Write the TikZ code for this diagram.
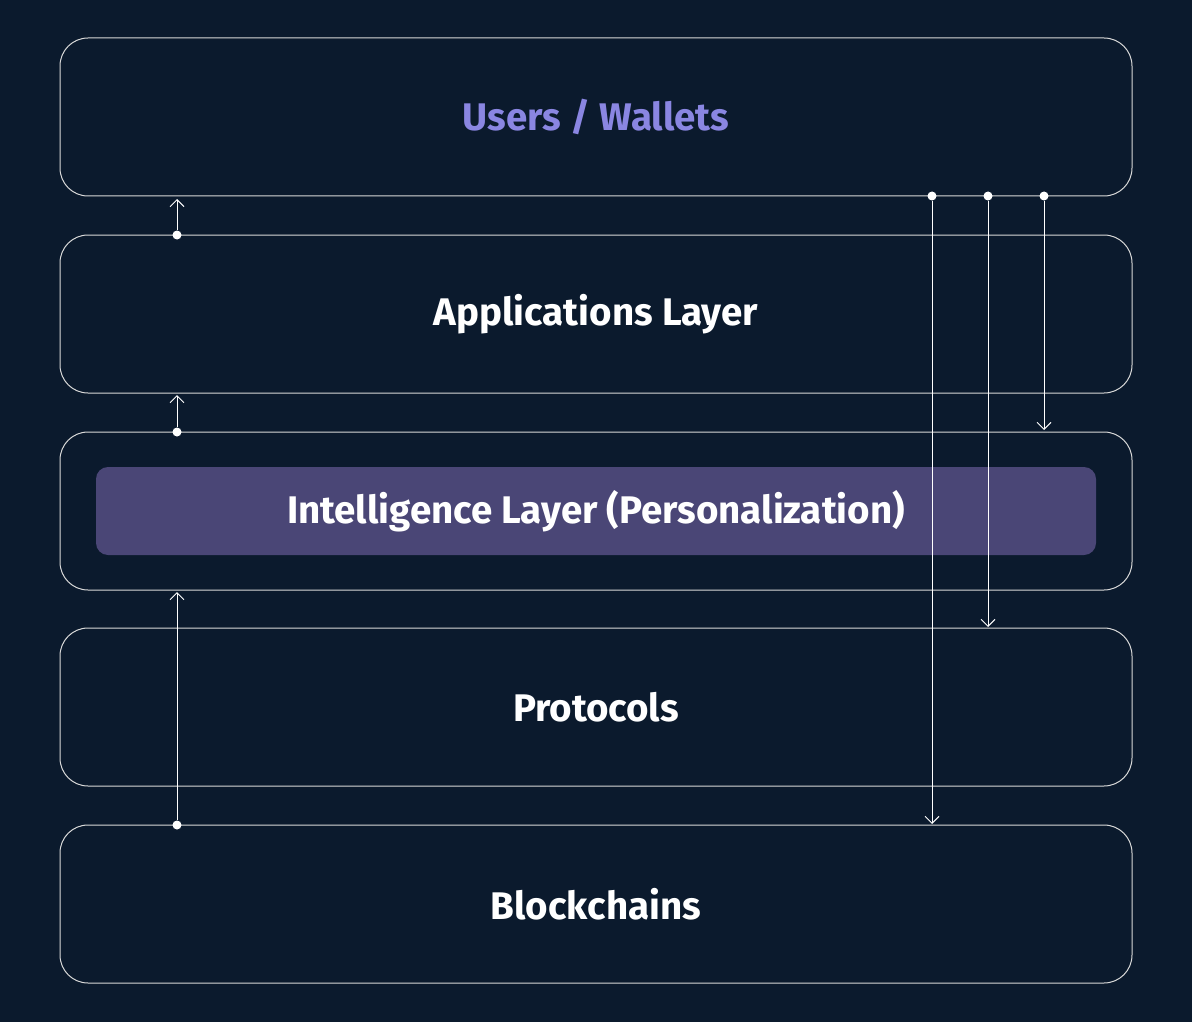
\documentclass[tikz,border=0pt]{standalone}
\usepackage{fontspec}
\setmainfont{Fira Sans}
\usetikzlibrary{arrows.meta, positioning}
\definecolor{bgnavy}{HTML}{0B1A2D}
\definecolor{hilite}{HTML}{4A4676}
\definecolor{userblue}{HTML}{8A86E2}
\tikzset{
    layer/.style={rectangle, rounded corners=28pt, minimum width=1072pt, minimum height=158pt, draw=white!85!black, line width=1pt, text=white, font=\fontsize{38.5}{42}\selectfont\bfseries},
    highlight/.style={rectangle, rounded corners=12pt, minimum width=1000pt, minimum height=88pt, fill=hilite, text=white, font=\fontsize{38.5}{42}\selectfont\bfseries},
    flow/.style={white, line width=1pt, -{Straight Barb[length=7pt,width=14pt]}},
    dot/.style={circle, fill=white, inner sep=0pt, minimum size=9pt},
}
\begin{document}
\begin{tikzpicture}[x=1pt,y=-1pt]
  \fill[bgnavy] (0,0) rectangle (1192,1022);
  \useasboundingbox (0,0) rectangle (1192,1022);

  \node[layer, text=userblue] (users) at (596,117) {Users / Wallets};
  \node[layer] (apps)   at (596,314) {Applications Layer};
  \node[layer] (intel)  at (596,511) {};
  \node[highlight] (pers) at (596,511) {Intelligence Layer (Personalization)};
  \node[layer] (protos) at (596,707) {Protocols};
  \node[layer] (chains) at (596,904) {Blockchains};

  % upward links on the left
  \node[dot] (a1) at (177,235) {};
  \node[dot] (a2) at (177,432) {};
  \node[dot] (a3) at (177,825) {};
  \draw[flow] (a1) -- (177,199);
  \draw[flow] (a2) -- (177,395);
  \draw[flow] (a3) -- (177,592);

  % downward links on the right
  \node[dot] (b1) at (932,196) {};
  \node[dot] (b2) at (988,196) {};
  \node[dot] (b3) at (1044,196) {};
  \coordinate (e1) at (932,824);
  \coordinate (e2) at (988,627);
  \coordinate (e3) at (1044,430);
  \draw[flow] (b1) -- (e1);
  \draw[flow] (b2) -- (e2);
  \draw[flow] (b3) -- (e3);
\end{tikzpicture}
\end{document}
